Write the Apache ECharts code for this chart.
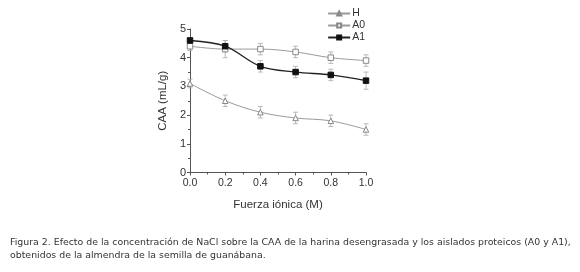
<!DOCTYPE html>
<html><head><meta charset="utf-8">
<script src="https://cdn.jsdelivr.net/npm/echarts@6/dist/echarts.min.js"></script>
<style>html,body{margin:0;padding:0;background:#fff;}#c{width:580px;height:272px;}</style>
</head><body><div id="c"></div>
<script>
const xValues = [0.0, 0.2, 0.4, 0.6, 0.8, 1.0];
const seriesNames = ['H', 'A0', 'A1'];
const hValues = [3.1, 2.5, 2.1, 1.9, 1.8, 1.5];
const hErr = [0.15, 0.2, 0.2, 0.2, 0.2, 0.2];
const a0Values = [4.4, 4.3, 4.3, 4.2, 4.0, 3.9];
const a0Err = [0.15, 0.3, 0.2, 0.2, 0.2, 0.2];
const a1Values = [4.6, 4.4, 3.7, 3.5, 3.4, 3.2];
const a1Err = [0.1, 0.2, 0.2, 0.2, 0.2, 0.3];
const yTicks = [0, 1, 2, 3, 4, 5];
const caption1 = 'Figura 2. Efecto de la concentración de NaCl sobre la CAA de la harina desengrasada y los aislados proteicos (A0 y A1),';
const caption2 = 'obtenidos de la almendra de la semilla de guanábana.';

const chart = echarts.init(document.getElementById('c'));
function pts(v){ return xValues.map((x,i)=>[x, v[i]]); }
function errSeries(v, e, color){
  return {
    type:'custom', silent:true, z:1,
    data: xValues.map((x,i)=>[x, v[i]-e[i], v[i]+e[i]]),
    renderItem:function(params, api){
      const lo = api.coord([api.value(0), api.value(1)]);
      const hi = api.coord([api.value(0), api.value(2)]);
      const w = 2.5;
      const st = {stroke: color, lineWidth: 0.8};
      return {type:'group', children:[
        {type:'line', shape:{x1:lo[0], y1:lo[1], x2:hi[0], y2:hi[1]}, style:st},
        {type:'line', shape:{x1:lo[0]-w, y1:lo[1], x2:lo[0]+w, y2:lo[1]}, style:st},
        {type:'line', shape:{x1:hi[0]-w, y1:hi[1], x2:hi[0]+w, y2:hi[1]}, style:st}
      ]};
    }
  };
}
const gray = '#9a9a9a';
chart.setOption({
  animation:false,
  backgroundColor:'#fff',
  grid:{left:190, right:214, top:29, bottom:99.5},
  legend:{
    right:210, top:3, orient:'vertical', itemGap:1, itemWidth:22, itemHeight:5,
    textStyle:{fontFamily:'Liberation Sans', fontSize:10.5, color:'#333', padding:[0,0,0,-3]},
    data:seriesNames
  },
  xAxis:{
    type:'value', min:0, max:1, interval:0.2,
    axisLine:{lineStyle:{color:'#555', width:1}},
    axisTick:{inside:false, length:3, lineStyle:{color:'#555'}},
    minorTick:{show:true, splitNumber:2, length:2, lineStyle:{color:'#555'}},
    splitLine:{show:false},
    axisLabel:{fontFamily:'Liberation Sans', fontSize:10.5, color:'#333', margin:5, formatter:v=>v.toFixed(1)},
    name:'Fuerza iónica (M)', nameLocation:'middle', nameGap:26,
    nameTextStyle:{fontFamily:'Liberation Sans', fontSize:11.5, color:'#333'}
  },
  yAxis:{
    type:'value', min:yTicks[0], max:yTicks[yTicks.length-1], interval:1,
    axisLine:{show:true, lineStyle:{color:'#555', width:1}},
    axisTick:{show:true, inside:false, length:3, lineStyle:{color:'#555'}},
    minorTick:{show:true, splitNumber:2, length:2, lineStyle:{color:'#555'}},
    splitLine:{show:false},
    axisLabel:{fontFamily:'Liberation Sans', fontSize:11, color:'#333', margin:4},
    name:'CAA (mL/g)', nameLocation:'middle', nameGap:21,
    nameTextStyle:{fontFamily:'Liberation Sans', fontSize:11.5, color:'#333'}
  },
  series:[
    errSeries(hValues, hErr, '#aaa'),
    errSeries(a0Values, a0Err, '#aaa'),
    errSeries(a1Values, a1Err, '#aaa'),
    {name:'H', type:'line', smooth:0.35, data:pts(hValues), symbol:'triangle', symbolSize:5.5,
     lineStyle:{color:gray, width:1}, itemStyle:{color:'#fff', borderColor:'#888', borderWidth:1}, z:3},
    {name:'A0', type:'line', smooth:0.35, data:pts(a0Values), symbol:'rect', symbolSize:5.5,
     lineStyle:{color:gray, width:1}, itemStyle:{color:'#fff', borderColor:'#888', borderWidth:1}, z:3},
    {name:'A1', type:'line', smooth:0.35, data:pts(a1Values), symbol:'rect', symbolSize:5.5,
     lineStyle:{color:'#222', width:1.3}, itemStyle:{color:'#111', borderColor:'#111', borderWidth:1}, z:4}
  ],
  graphic:[
    {type:'text', left:10, top:238, style:{text:caption1, fontFamily:'DejaVu Sans', fontSize:9.4, fill:'#333'}},
    {type:'text', left:10, top:251, style:{text:caption2, fontFamily:'DejaVu Sans', fontSize:9.4, fill:'#333'}}
  ]
});
</script></body></html>
